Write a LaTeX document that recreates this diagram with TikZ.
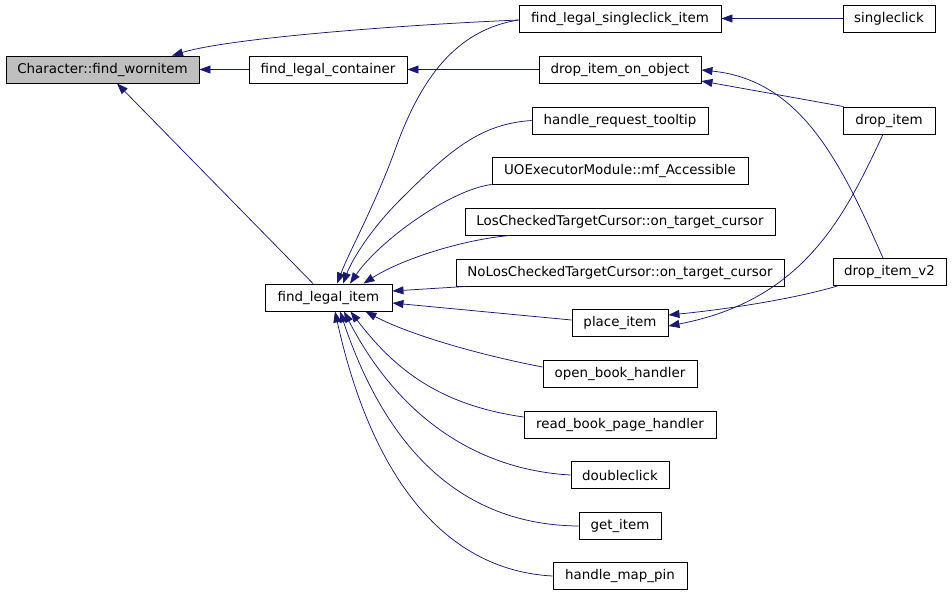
\documentclass[tikz,border=0pt]{standalone}
\usepackage{fontspec}
\setmainfont{DejaVu Sans}
\usetikzlibrary{arrows.meta}
\definecolor{edgeblue}{HTML}{191970}
\definecolor{focusgray}{HTML}{BFBFBF}
\begin{document}
\begin{tikzpicture}[x=1pt,y=-1pt,
  fn/.style={draw=black,line width=0.9pt,fill=white,inner sep=0pt,minimum height=27pt,
    font=\fontsize{13.4}{16}\selectfont,anchor=center},
  call/.style={draw=edgeblue,line width=0.75pt,
    arrows={-{Triangle[length=11pt,width=8pt,fill=edgeblue,color=edgeblue]}}}]
\useasboundingbox (0,0) rectangle (952,595);
% nodes
\node[fn,fill=focusgray,minimum width=193pt] (worn) at (102.5,69.5) {Character::find\_wornitem};
\node[fn,minimum width=158pt] (cont) at (328,69.5) {find\_legal\_container};
\node[fn,minimum width=202pt] (scitem) at (620,18.5) {find\_legal\_singleclick\_item};
\node[fn,minimum width=92pt] (sclick) at (889,18.5) {singleclick};
\node[fn,minimum width=162pt] (dropobj) at (620,69.5) {drop\_item\_on\_object};
\node[fn,minimum width=176pt] (tooltip) at (620,120.5) {handle\_request\_tooltip};
\node[fn,minimum width=256pt] (mfacc) at (620,170.5) {UOExecutorModule::mf\_Accessible};
\node[fn,minimum width=310pt] (los) at (620,221.5) {LosCheckedTargetCursor::on\_target\_cursor};
\node[fn,minimum width=328pt] (nolos) at (620,272.5) {NoLosCheckedTargetCursor::on\_target\_cursor};
\node[fn,minimum width=96pt] (place) at (620,323) {place\_item};
\node[fn,minimum width=154pt] (openb) at (620,374) {open\_book\_handler};
\node[fn,minimum width=192pt] (readb) at (620,425) {read\_book\_page\_handler};
\node[fn,minimum width=98pt] (dbl) at (620,475) {doubleclick};
\node[fn,minimum width=82pt] (getit) at (620,526) {get\_item};
\node[fn,minimum width=134pt] (pin) at (620,576) {handle\_map\_pin};
\node[fn,minimum width=127pt] (fli) at (328.5,297.5) {find\_legal\_item};
\node[fn,minimum width=92pt] (dropit) at (889,120.5) {drop\_item};
\node[fn,minimum width=113pt] (dropv2) at (889.5,272) {drop\_item\_v2};
% edges
\draw[call] (cont.west) -- (worn.east);
\draw[call] (dropobj.west) -- (cont.east);
\draw[call] (sclick.west) -- (scitem.east);
\draw[call] ([yshift=-1.5pt]scitem.west) .. controls (400,25) and (230,38) .. ([xshift=69.5pt]worn.north);
\draw[call] ([yshift=-1.5pt]scitem.west) .. controls (455,30) and (420,80) .. (395,150)
   .. controls (375,205) and (350,250) .. ([xshift=8.5pt]fli.north);
\draw[call] (tooltip.west) .. controls (480,124) and (450,150) .. (400,200)
   .. controls (370,230) and (352,260) .. ([xshift=14.5pt]fli.north);
\draw[call] (mfacc.south west) .. controls (450,190) and (380,240) .. ([xshift=21.5pt]fli.north);
\draw[call] ([xshift=-110pt]los.south) .. controls (460,240) and (400,260) .. ([xshift=35pt]fli.north);
\draw[call] ([xshift=10pt]nolos.south west) -- ([yshift=6.5pt]fli.east);
\draw[call] ([yshift=3pt]place.west) -- ([yshift=-5.5pt]fli.east);
\draw[call] ([yshift=7pt]openb.west) .. controls (480,355) and (410,335) .. ([xshift=37pt]fli.south);
\draw[call] ([yshift=8pt]readb.west) .. controls (440,405) and (395,370) .. ([xshift=22pt]fli.south);
\draw[call] (dbl.west) .. controls (480,470) and (400,420) .. ([xshift=15.5pt]fli.south);
\draw[call] (getit.west) .. controls (470,525) and (390,460) .. ([xshift=11.5pt]fli.south);
\draw[call] (pin.west) .. controls (440,570) and (370,470) .. ([xshift=6.5pt]fli.south);
\draw[call] ([xshift=-15.5pt]fli.north) -- ([xshift=14.5pt]worn.south);
\draw[call] ([xshift=1pt]dropit.north west) -- ([yshift=-11.5pt]dropobj.east);
\draw[call] ([xshift=-6.5pt]dropv2.north) .. controls (840,160) and (800,80) .. ([yshift=-0.5pt]dropobj.east);
\draw[call] ([xshift=-6pt]dropit.south) .. controls (845,215) and (805,300) .. ([yshift=-3pt]place.east);
\draw[call] ([xshift=5pt]dropv2.south west) .. controls (790,300) and (720,310) .. ([yshift=8pt]place.east);
\end{tikzpicture}
\end{document}
